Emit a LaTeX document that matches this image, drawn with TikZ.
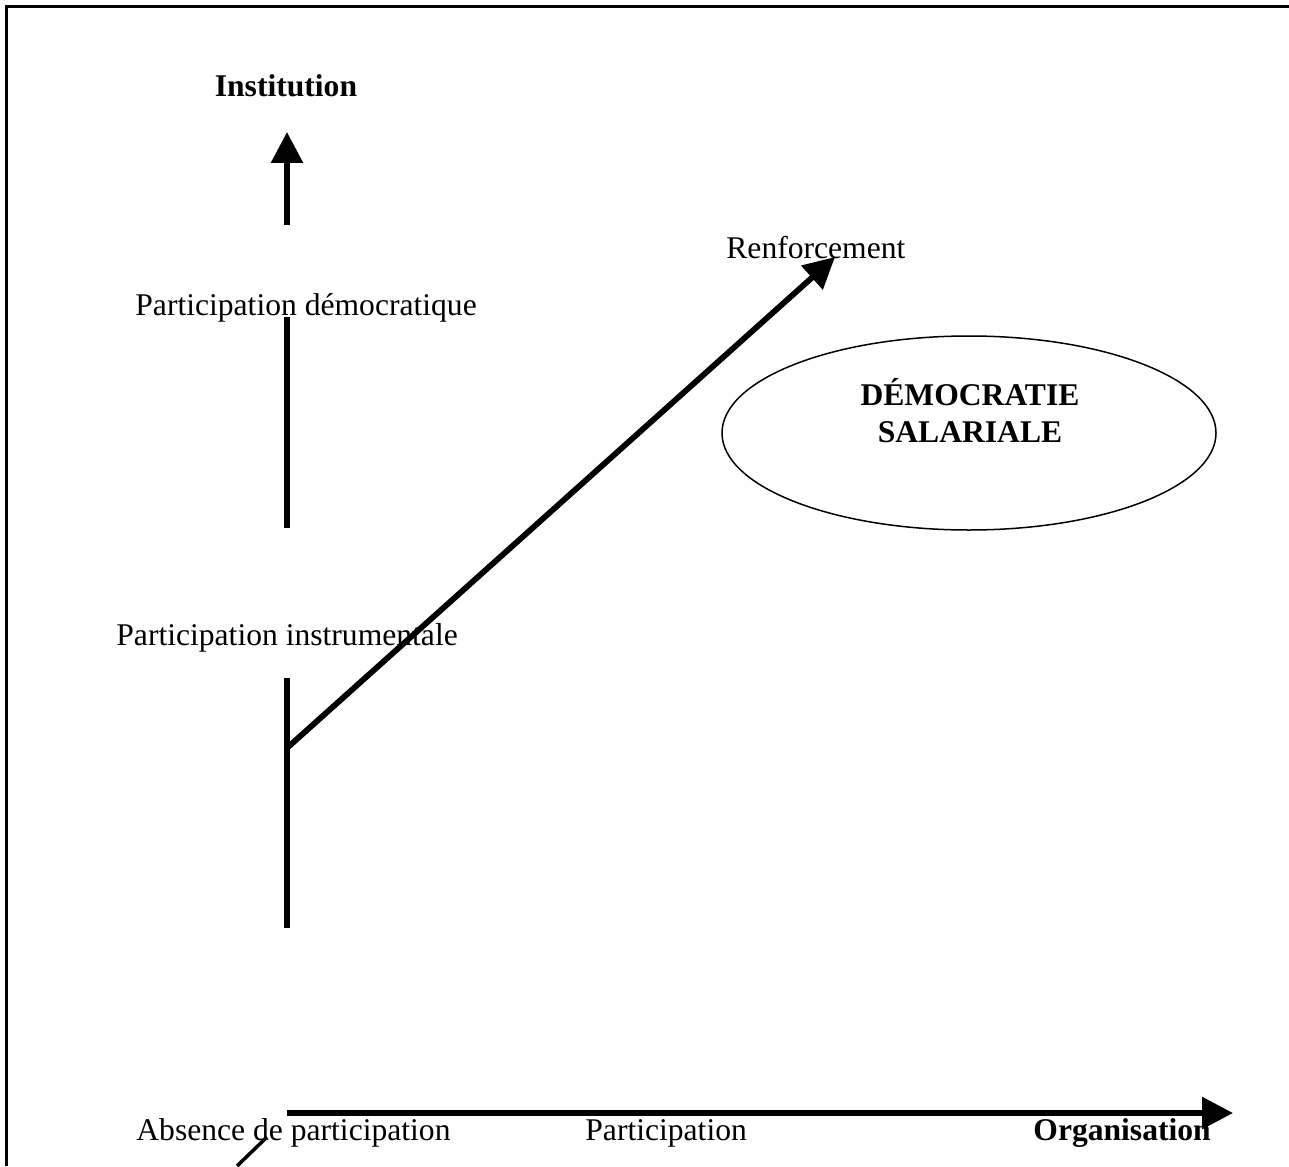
\documentclass[tikz,border=0pt]{standalone}
\usepackage{fontspec}
\setmainfont{Liberation Serif}
\usetikzlibrary{shapes.geometric, arrows.meta}

\begin{document}
\begin{tikzpicture}[x=0.5pt, y=-0.5pt,
    every node/.style={inner sep=0pt, font=\fontsize{15.8}{19}\selectfont},
    label/.style={anchor=base west},
    titre/.style={anchor=base, font=\fontsize{15.8}{19}\selectfont\bfseries},
    axe/.style={line width=2.9pt, -{Triangle[length=15.5pt, width=15.5pt]}},
    trait/.style={line width=2.9pt}]
    \useasboundingbox (0,0) rectangle (1289,1166);
    \draw[line width=1.5pt] (1289,7) -- (6,7) -- (6,1166);

    \node[titre] (inst) at (286,97) {Institution};
    \node[label] (p_dem) at (135,315) {Participation démocratique};
    \node[label] (p_inst) at (116,645) {Participation instrumentale};
    \node[label] (renf) at (726,258) {Renforcement};
    \node[label] (absence) at (136,1140) {Absence de participation};
    \node[label] (partic) at (585,1140) {Participation};
    \node[titre, anchor=base west] (org) at (1033,1140) {Organisation};

    \node[ellipse, draw, line width=0.75pt, minimum width=247pt, minimum height=97pt] (dem) at (969,433) {};
    \node[titre] (dem_1) at (970,405) {DÉMOCRATIE};
    \node[titre] (dem_2) at (970,442) {SALARIALE};

    \coordinate (v_0) at (287,225);
    \coordinate (v_1) at (287,132);
    \coordinate (v_2) at (287,317);
    \coordinate (v_3) at (287,528);
    \coordinate (v_4) at (287,678);
    \coordinate (v_5) at (287,928);
    \coordinate (o) at (287,748);
    \coordinate (r) at (835,257);
    \coordinate (h_0) at (287,1113);
    \coordinate (h_1) at (1233,1113);
    \coordinate (s_0) at (237,1166);
    \coordinate (s_1) at (267,1137);

    \draw[axe] (v_0) -- (v_1);
    \draw[trait] (v_2) -- (v_3);
    \draw[trait] (v_4) -- (v_5);
    \draw[axe] (o) -- (r);
    \draw[axe] (h_0) -- (h_1);
    \draw[line width=1.75pt] (s_0) -- (s_1);

\end{tikzpicture}
\end{document}
